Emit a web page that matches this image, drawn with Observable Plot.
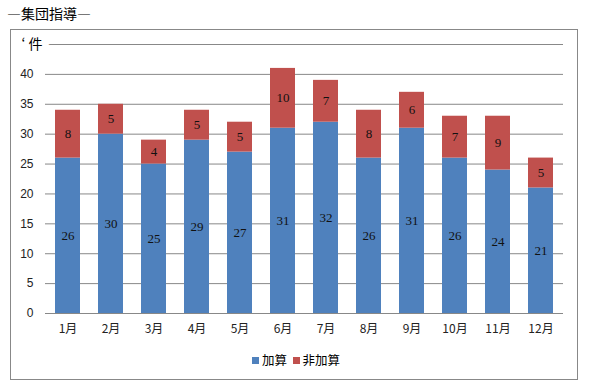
<!DOCTYPE html>
<html><head><meta charset="utf-8">
<script src="https://cdn.jsdelivr.net/npm/d3@7"></script>
<script src="https://cdn.jsdelivr.net/npm/@observablehq/plot@0.6"></script>
<style>
body{margin:0;background:#fff;width:592px;height:388px;position:relative;overflow:hidden;font-family:"Noto Sans CJK JP",sans-serif;}
#title{position:absolute;left:7px;top:3px;font-size:14px;color:#000;}
#frame{position:absolute;left:10px;top:29px;width:566px;height:349px;border:1px solid #888;}
#chart{position:absolute;left:0;top:0;}
#legend{position:absolute;left:0;width:592px;top:350px;text-align:center;font-size:12.5px;color:#000;}
#legend span.sw{display:inline-block;width:7px;height:7px;margin-right:3px;vertical-align:1px;}
</style></head>
<body>
<div id="title">―集団指導―</div>
<div id="frame"></div>
<div id="chart"></div>
<div id="legend"><span class="sw" style="background:#4F81BD"></span>加算&nbsp;&nbsp;<span class="sw" style="background:#C0504D"></span>非加算</div>
<script>
const months = ["1月","2月","3月","4月","5月","6月","7月","8月","9月","10月","11月","12月"];
const kasan = [26,30,25,29,27,31,32,26,31,26,24,21];
const hikasan = [8,5,4,5,5,10,7,8,6,7,9,5];
const seriesNames = ["加算","非加算"];
const seriesColors = ["#4F81BD","#C0504D"];
const yTicks = [0,5,10,15,20,25,30,35,40,45];

const rows = [];
months.forEach((m,i)=>{
  rows.push({month:m, series:seriesNames[0], value:kasan[i]});
  rows.push({month:m, series:seriesNames[1], value:hikasan[i]});
});

const chart = Plot.plot({
  width: 592, height: 345,
  marginLeft: 45, marginRight: 29, marginTop: 44, marginBottom: 32,
  style: {background:"transparent", fontFamily:"Liberation Sans, sans-serif", fontSize:"12px", color:"#222"},
  x: {domain: months, paddingInner: 0.42, paddingOuter: 0.21, label: null, tickSize: 0},
  y: {domain: [0,45], label: null},
  color: {domain: seriesNames, range: seriesColors},
  marks: [
    Plot.gridY(yTicks, {stroke:"#888", strokeOpacity:1}),
    Plot.ruleY([0], {stroke:"#888"}),
    Plot.axisY({ticks: yTicks, tickSize: 0, tickPadding: 12, tickFormat: d => d===45 ? "" : d, fontSize: 12}),
    Plot.text([45], {frameAnchor:"left", y: d=>d, text: d=>"‘ 件", dx: -24, textAnchor:"start", fontSize: 14, fontFamily:"Noto Sans CJK JP", fill:"#000", stroke:"white", strokeWidth: 14}),
    Plot.axisX({tickSize:0, tickPadding: 11, fontFamily:"Noto Sans CJK JP", fontSize: 12}),
    Plot.barY(rows, {x:"month", y:"value", fill:"series", order: seriesNames}),
    Plot.text(rows, Plot.stackY({x:"month", y:"value", z:"series", order: seriesNames, text:"value", fontFamily:"Liberation Serif, serif", fontSize: 13, fill:"#111"}))
  ]
});
document.getElementById("chart").appendChild(chart);
</script>
</body></html>
